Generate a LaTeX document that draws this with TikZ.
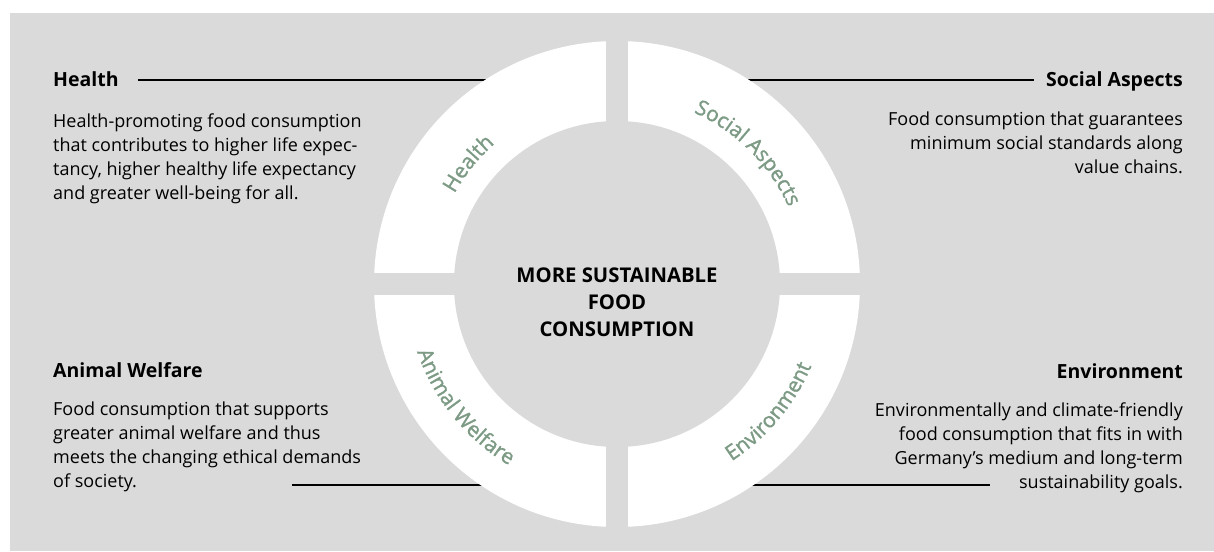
\documentclass[tikz,border=0pt]{standalone}
\usepackage{fontspec}
\setmainfont{Open Sans}
\newfontfamily\ringfam[FakeBold=1.2]{Open Sans}
\usetikzlibrary{decorations.text}
\definecolor{backdrop}{HTML}{DADADA}
\definecolor{ringgreen}{HTML}{7C9A84}
\newcommand{\ringfont}{\ringfam\fontsize{21}{21}\selectfont}

\begin{document}
\begin{tikzpicture}[x=1pt,y=1pt,
  leader/.style={line width=1.6pt,draw=black},
  title/.style={font=\fontsize{19.5}{24.3}\selectfont\bfseries,inner sep=0pt},
  body/.style={font=\fontsize{18}{24.3}\selectfont,inner sep=0pt},
  hub/.style={font=\fontsize{20.3}{27}\selectfont\bfseries,align=center,inner sep=0pt},
  ringlabel/.style={decorate,decoration={text along path,text align=center,
    text color=ringgreen,text={|\ringfont|#1}}}
]
  \useasboundingbox (0,0) rectangle (1214,551);
  \fill[backdrop] (10,0) rectangle (1214,538);
  \coordinate (c) at (617,267);
  % side texts (base = last line)
  \node[title,anchor=base west] (htitle) at (53,464) {Health};
  \node[body,anchor=base west,align=left] (hbody) at (53,351) {Health-promoting food consumption\\that contributes to higher life expec-\\tancy, higher healthy life expectancy\\and greater well-being for all.};
  \node[title,anchor=base east] (stitle) at (1183,464) {Social Aspects};
  \node[body,anchor=base east,align=right] (sbody) at (1183,377) {Food consumption that guarantees\\minimum social standards along\\value chains.};
  \node[title,anchor=base west] (atitle) at (53,173) {Animal Welfare};
  \node[body,anchor=base west,align=left] (abody) at (53,63) {Food consumption that supports\\greater animal welfare and thus\\meets the changing ethical demands\\of society.};
  \node[title,anchor=base east] (etitle) at (1183,172) {Environment};
  \node[body,anchor=base east,align=right] (ebody) at (1183,62) {Environmentally and climate-friendly\\food consumption that fits in with\\Germany’s medium and long-term\\sustainability goals.};
  % leaders
  \coordinate (hring) at (560,471);
  \coordinate (sring) at (680,471);
  \coordinate (astart) at (292,66);
  \coordinate (aring) at (560,66);
  \coordinate (eend) at (990,66);
  \coordinate (ering) at (680,66);
  \draw[leader] ([shift={(19pt,7pt)}]htitle.base east) -- (hring);
  \draw[leader] (sring) -- ([shift={(-12pt,7pt)}]stitle.base west);
  \draw[leader] (astart) -- (aring);
  \draw[leader] (ering) -- (eend);
  % ring
  \fill[white] (c) circle (243);
  \fill[backdrop] (c) circle (163);
  \fill[backdrop] (606,20) rectangle (628,514);
  \fill[backdrop] (370,256) rectangle (864,278);
  \path[ringlabel={Health}] (c) ++(181:186) arc[start angle=181,end angle=101,radius=186];
  \path[ringlabel={Social Aspects}] (c) ++(95:188) arc[start angle=95,end angle=-5,radius=188];
  \path[ringlabel={Animal Welfare}] (c) ++(169:211) arc[start angle=169,end angle=269,radius=211];
  \path[ringlabel={Environment}] (c) ++(270:211) arc[start angle=270,end angle=370,radius=211];
  \node[hub] (core) at (617,249) {MORE SUSTAINABLE\\FOOD\\CONSUMPTION};
\end{tikzpicture}
\end{document}
